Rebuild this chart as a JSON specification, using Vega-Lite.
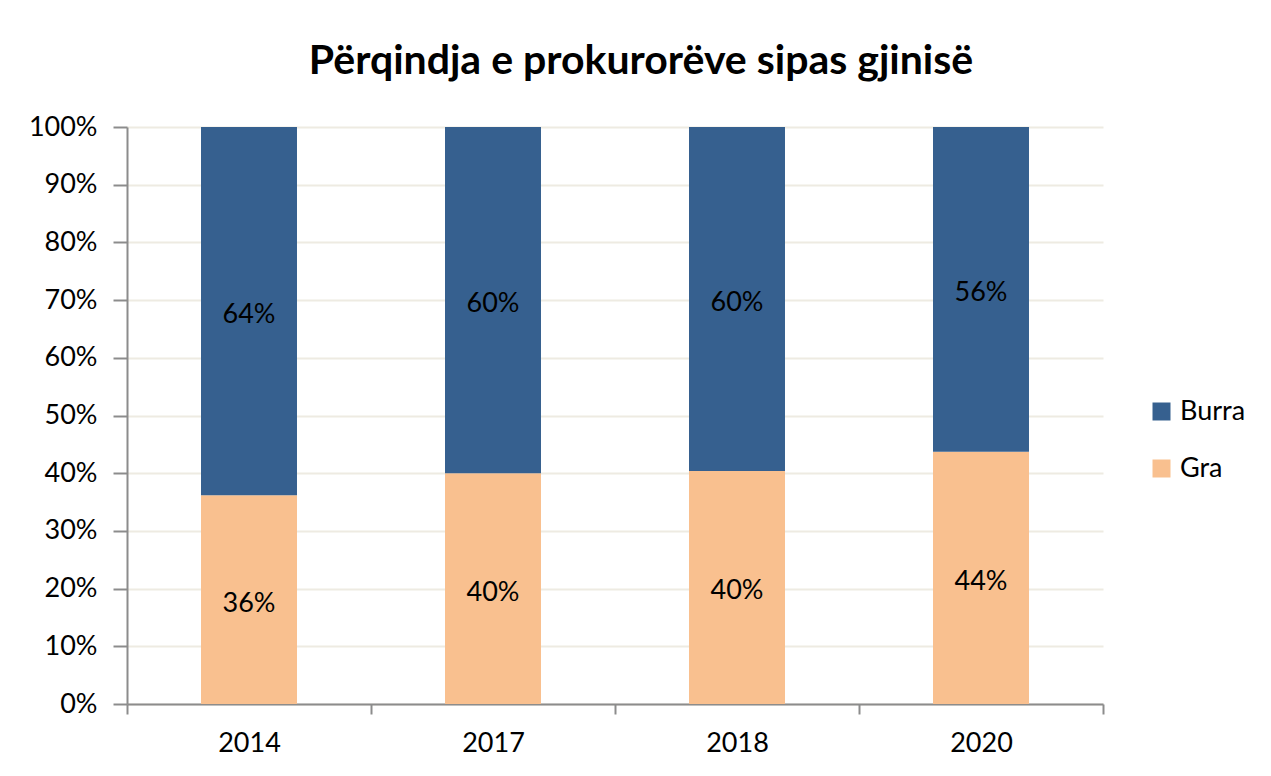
{
  "$schema": "https://vega.github.io/schema/vega-lite/v6.json",
  "autosize": {"type": "none"},
  "width": 976,
  "height": 577,
  "padding": {"left": 127, "top": 127, "right": 168, "bottom": 72},
  "background": "white",
  "title": {
    "text": "Përqindja e prokurorëve sipas gjinisë",
    "font": "Lato",
    "fontSize": 41,
    "fontWeight": "bold",
    "color": "black",
    "anchor": "middle",
    "offset": 30,
    "dx": 26
  },
  "data": {
    "values": [
      {"year": "2014", "gender": "Gra", "value": 0.362},
      {"year": "2014", "gender": "Burra", "value": 0.638},
      {"year": "2017", "gender": "Gra", "value": 0.40},
      {"year": "2017", "gender": "Burra", "value": 0.60},
      {"year": "2018", "gender": "Gra", "value": 0.404},
      {"year": "2018", "gender": "Burra", "value": 0.596},
      {"year": "2020", "gender": "Gra", "value": 0.437},
      {"year": "2020", "gender": "Burra", "value": 0.563}
    ]
  },
  "transform": [
    {"stack": "value", "groupby": ["year"], "sort": [{"field": "gender", "order": "descending"}], "as": ["v0", "v1"]},
    {"calculate": "(datum.v0 + datum.v1) / 2", "as": "mid"}
  ],
  "encoding": {
    "x": {
      "field": "year",
      "type": "nominal",
      "scale": {"paddingInner": 0, "paddingOuter": 0},
      "axis": {
        "title": null,
        "labelAngle": 0,
        "labelFont": "Lato",
        "labelFontSize": 27,
        "labelColor": "black",
        "labelPadding": 16,
        "tickBand": "extent",
        "tickSize": 10,
        "tickWidth": 2,
        "tickColor": "#8c8c8c",
        "domainColor": "#8c8c8c",
        "domainWidth": 2,
        "grid": false
      }
    }
  },
  "layer": [
    {
      "mark": {"type": "bar", "width": {"band": 0.3934}},
      "encoding": {
        "y": {
          "field": "v1",
          "type": "quantitative",
          "scale": {"domain": [0, 1], "nice": false},
          "axis": {
            "title": null,
            "format": ".0%",
            "values": [0, 0.1, 0.2, 0.3, 0.4, 0.5, 0.6, 0.7, 0.8, 0.9, 1],
            "labelFont": "Lato",
            "labelFontSize": 27,
            "labelColor": "black",
            "labelPadding": 16,
            "tickSize": 14,
            "tickWidth": 2,
            "tickColor": "#8c8c8c",
            "domainColor": "#8c8c8c",
            "domainWidth": 2,
            "grid": true,
            "gridColor": "#EEEBE2",
            "gridWidth": 2
          }
        },
        "y2": {"field": "v0"},
        "color": {
          "field": "gender",
          "type": "nominal",
          "scale": {"domain": ["Burra", "Gra"], "range": ["#36608F", "#F9C08F"]},
          "legend": {
            "title": null,
            "orient": "none",
            "legendX": 1021,
            "legendY": 271,
            "symbolType": "square",
            "symbolSize": 324,
            "symbolStrokeWidth": 0,
            "labelFont": "Lato",
            "labelFontSize": 27,
            "labelColor": "black",
            "labelOffset": 5,
            "rowPadding": 29
          }
        }
      }
    },
    {
      "mark": {"type": "text", "font": "Lato", "fontSize": 27, "color": "black", "baseline": "middle", "dy": 4},
      "encoding": {
        "y": {"field": "mid", "type": "quantitative"},
        "text": {"field": "value", "type": "quantitative", "format": ".0%"}
      }
    }
  ],
  "config": {"view": {"stroke": null}}
}
